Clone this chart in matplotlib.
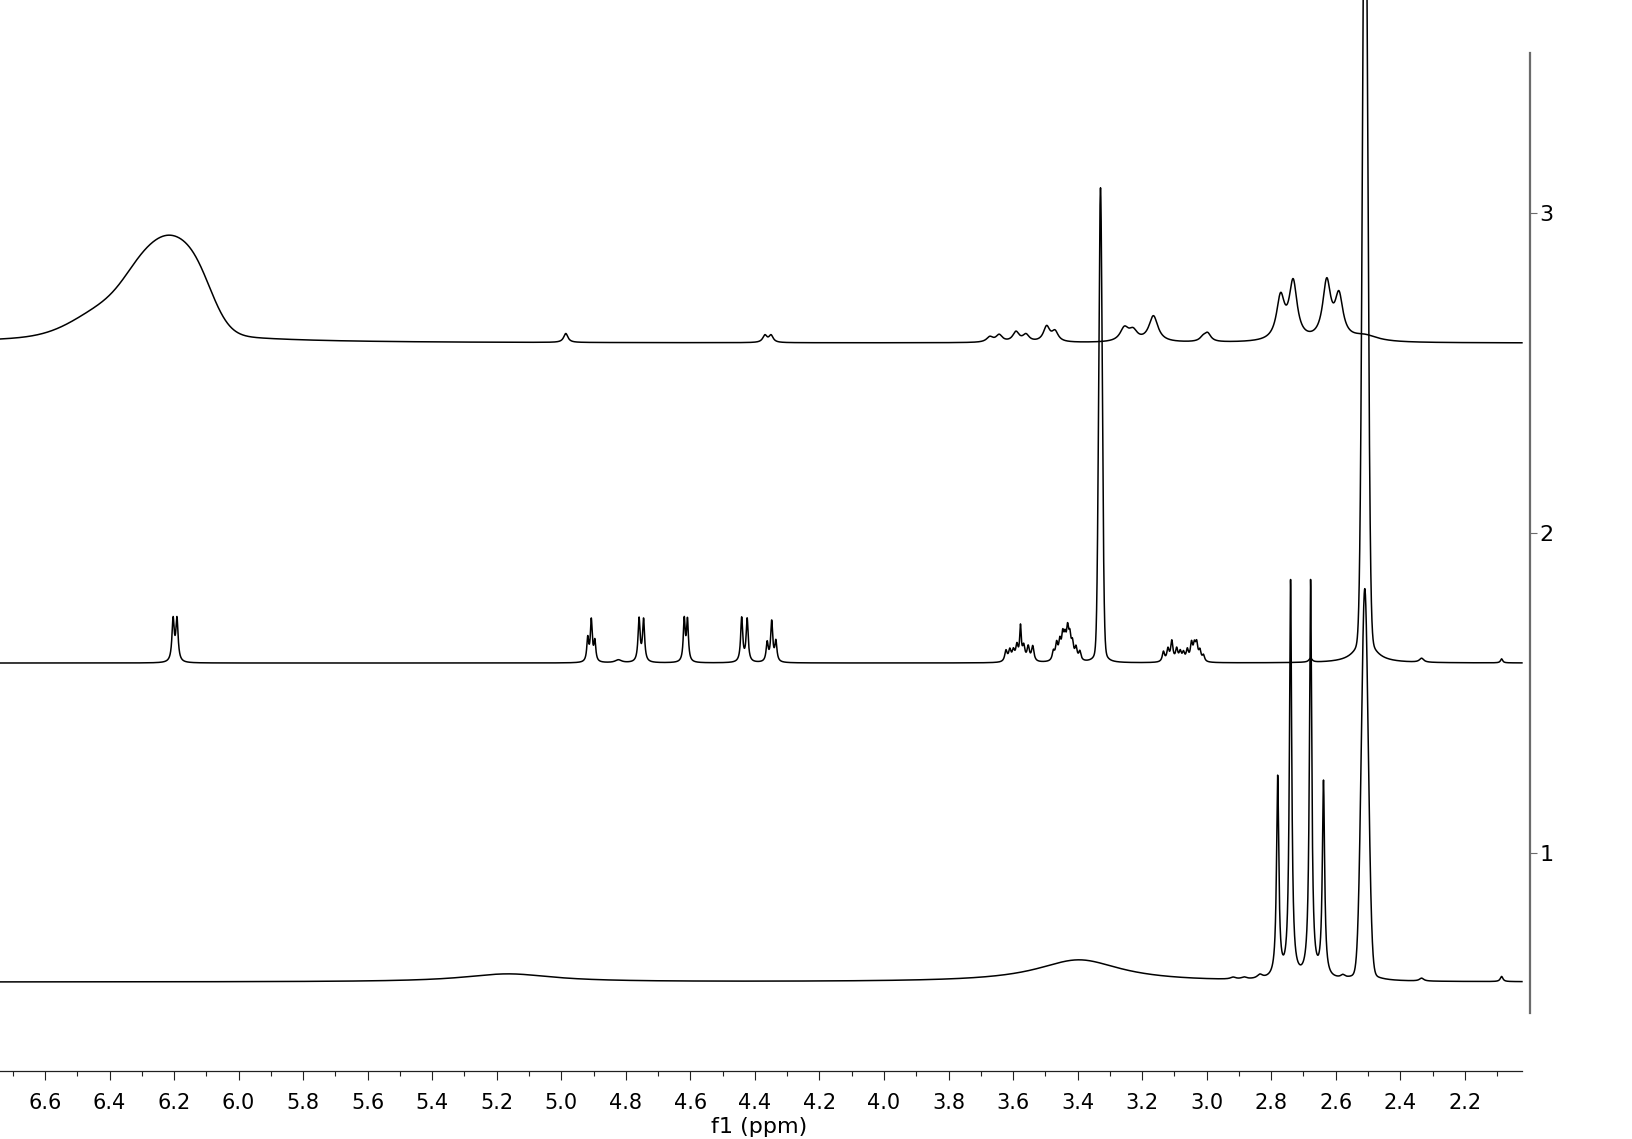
import numpy as np
import matplotlib
matplotlib.use("Agg")
import matplotlib.pyplot as plt

# three stacked 1H traces; each line: ppm, height, half width (ppm), lorentzian fraction
offsets = [0.597, 1.594, 2.594]

bottom_ppm = [5.165, 3.396, 2.918, 2.884, 2.835, 2.780, 2.740, 2.678, 2.638,
              2.578, 2.510, 2.510, 2.334, 2.086]
bottom_height = [0.025, 0.069, 0.006, 0.006, 0.012, 0.625, 1.24, 1.24, 0.61,
                 0.009, 1.195, 0.03, 0.009, 0.016]
bottom_hwhm = [0.17, 0.16, 0.01, 0.01, 0.01, 0.0042, 0.0042, 0.0042, 0.0042,
               0.008, 0.0125, 0.035, 0.008, 0.005]
bottom_eta = [1, 1, 1, 1, 1, 1, 1, 1, 1, 1, 0, 1, 1, 1]

middle_ppm = [6.203, 6.191, 4.918, 4.907, 4.896, 4.823, 4.759, 4.745, 4.619, 4.609,
              4.441, 4.424, 4.362, 4.348, 4.335,
              3.622, 3.610, 3.599, 3.588, 3.577, 3.567, 3.553, 3.539,
              3.475, 3.465, 3.455, 3.446, 3.439, 3.431, 3.424, 3.416, 3.405, 3.393,
              3.329,
              3.134, 3.120, 3.108, 3.093, 3.082, 3.072, 3.060, 3.047, 3.038, 3.031, 3.021, 3.010,
              2.678, 2.509, 2.509, 2.334, 2.086]
middle_height = [0.131, 0.131, 0.072, 0.128, 0.0625, 0.009, 0.134, 0.131, 0.131, 0.128,
                 0.1375, 0.134, 0.059, 0.125, 0.0625,
                 0.034, 0.034, 0.031, 0.047, 0.103, 0.044, 0.044, 0.047,
                 0.028, 0.05, 0.053, 0.069, 0.056, 0.084, 0.0625, 0.047, 0.0375, 0.028,
                 1.484,
                 0.031, 0.0375, 0.0625, 0.0375, 0.028, 0.025, 0.034, 0.053, 0.044, 0.05, 0.031, 0.019,
                 0.0125, 2.65, 0.09, 0.0125, 0.0125]
middle_hwhm = [0.0042, 0.0042, 0.0035, 0.0035, 0.0035, 0.012, 0.0038, 0.0038, 0.0035, 0.0035,
               0.0038, 0.0038, 0.0038, 0.0038, 0.0038,
               0.0045, 0.0045, 0.0045, 0.0045, 0.003, 0.0045, 0.0045, 0.0045,
               0.0042, 0.0042, 0.0042, 0.0042, 0.0042, 0.0042, 0.0042, 0.0042, 0.0042, 0.0042,
               0.0065,
               0.0042, 0.0042, 0.0042, 0.0042, 0.0042, 0.0042, 0.0042, 0.0042, 0.0042, 0.0042, 0.0042, 0.0042,
               0.006, 0.0093, 0.03, 0.008, 0.004]
middle_eta = [1] * 33 + [0.15] + [1] * 12 + [1, 0, 1, 1, 1]

# broad exchange peak near 6.2 built from a flat core, a left wing and a wide tail
top_ppm = [6.13, 6.21, 6.29, 6.39, 6.30, 4.986, 4.369, 4.350, 3.672, 3.643, 3.591, 3.560, 3.496, 3.470,
           3.255, 3.228, 3.165, 3.011, 2.997, 2.771, 2.732, 2.628, 2.590, 2.510]
top_height = [0.167, 0.159, 0.133, 0.08, 0.05, 0.028, 0.022, 0.022, 0.016, 0.022, 0.031, 0.022, 0.047, 0.031,
              0.041, 0.031, 0.081, 0.0125, 0.025, 0.131, 0.178, 0.178, 0.131, 0.019]
top_hwhm = [0.0648, 0.0648, 0.072, 0.125, 0.25, 0.008, 0.008, 0.008, 0.012, 0.012, 0.012, 0.012, 0.012, 0.012,
            0.016, 0.016, 0.017, 0.012, 0.012, 0.015, 0.015, 0.015, 0.015, 0.05]
top_eta = [0, 0, 0, 0] + [1] * 20

xtick_labels = ['6.6', '6.4', '6.2', '6.0', '5.8', '5.6', '5.4', '5.2', '5.0', '4.8', '4.6',
                '4.4', '4.2', '4.0', '3.8', '3.6', '3.4', '3.2', '3.0', '2.8', '2.6', '2.4', '2.2']
ytick_labels = ['1', '2', '3']


def trace(x, ppm, height, hwhm, eta):
    y = np.zeros_like(x)
    for c, h, w, e in zip(ppm, height, hwhm, eta):
        d = x - c
        lor = 1.0 / (1.0 + (d / w) ** 2)
        gau = np.exp(-np.log(2) * (d / w) ** 2)
        y += h * (e * lor + (1 - e) * gau)
    return y


x_left, x_right = 6.7394, 1.998
x_end = 2.023
x = np.linspace(x_left, x_end, 24000)

fig = plt.figure(figsize=(16.32, 11.39), dpi=100)
ax = fig.add_axes([0, 68 / 1139, 1530 / 1632, 1071 / 1139])

spectra = [
    (bottom_ppm, bottom_height, bottom_hwhm, bottom_eta),
    (middle_ppm, middle_height, middle_hwhm, middle_eta),
    (top_ppm, top_height, top_hwhm, top_eta),
]
for off, (p, h, w, e) in zip(offsets, spectra):
    ax.plot(x, off + trace(x, p, h, w, e), color='black', lw=1.1)

ax.set_xlim(x_left, x_right)
ax.set_ylim(0.319, 3.666)

for s in ['top', 'left']:
    ax.spines[s].set_visible(False)
ax.spines['bottom'].set_bounds(x_left, x_end)
ax.spines['bottom'].set_color('#202020')
ax.spines['bottom'].set_linewidth(0.9)
ax.spines['right'].set_bounds(0.5, 3.5)
ax.spines['right'].set_color('#6b6b6b')
ax.spines['right'].set_linewidth(1.6)

ax.set_xticks([float(t) for t in xtick_labels])
ax.set_xticklabels(xtick_labels)
ax.set_xticks(np.arange(2.1, 6.75, 0.1), minor=True)
ax.tick_params(axis='x', which='major', direction='out', length=6.5, width=0.8,
               color='#202020', pad=9, labelsize=15)
ax.tick_params(axis='x', which='minor', direction='out', length=3.3, width=0.8, color='#202020')

ax.yaxis.tick_right()
ax.set_yticks([float(t) for t in ytick_labels])
ax.set_yticklabels(ytick_labels)
ax.tick_params(axis='y', direction='out', length=5, width=0.8, color='#6b6b6b',
               pad=2, labelsize=16)

ax.set_xlabel('f1 (ppm)', fontsize=16, labelpad=0)
ax.xaxis.set_label_coords(0.4964, -0.043)

fig.savefig('out.png', dpi=100)
